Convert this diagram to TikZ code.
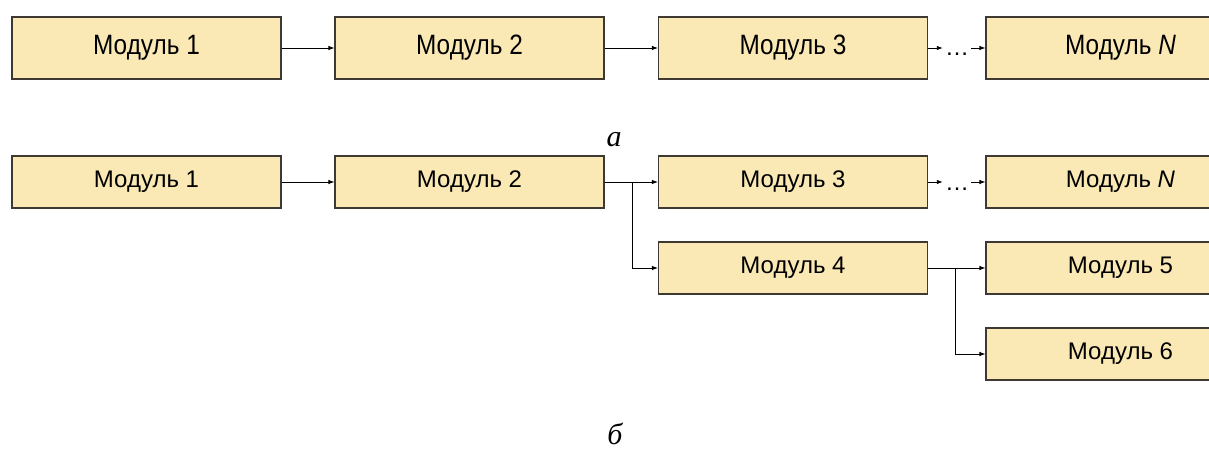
\documentclass[tikz,border=0pt]{standalone}
\usepackage{fontspec}
\setmainfont{Liberation Sans}
\newfontfamily\narrowfont[FakeStretch=0.87]{Liberation Sans}
\newfontfamily\capfont{Liberation Serif}
\usepackage{xcolor}
\usetikzlibrary{arrows.meta}
\definecolor{boxfill}{HTML}{FAE9B5}
\definecolor{boxline}{HTML}{3E3A33}
\definecolor{text}{HTML}{000000}
\tikzset{
  modul/.style={draw=boxline, fill=boxfill, line width=1.1pt, minimum width=269pt,
    minimum height=62pt, inner sep=0pt, text=text, font=\narrowfont\fontsize{28}{32}\selectfont},
  modulb/.style={modul, minimum height=52pt, font=\fontsize{24}{28}\selectfont},
  conn/.style={draw=text, line width=0.9pt, -{Latex[length=6pt,width=4.5pt]}},
  dots/.style={inner xsep=2pt, inner ysep=0pt, anchor=base, font=\fontsize{24}{28}\selectfont},
  lab/.style={text=text, anchor=base, inner sep=0pt, font=\capfont\itshape\fontsize{30}{34}\selectfont},
}
\begin{document}
\begin{tikzpicture}[x=1pt,y=-1pt]
  \clip (0,0) rectangle (1209,449);

  % a: chain of modules
  \node[modul] (m1a) at (146.5,48) {Модуль 1};
  \node[modul] (m2a) at (469.5,48) {Модуль 2};
  \node[modul] (m3a) at (793,48) {Модуль 3};
  \node[modul] (mNa) at (1120.5,48) {Модуль \textit{N}};
  \node[dots] (dA) at (957,56) {…};

  \draw[conn] (m1a) -- (m2a);
  \draw[conn] (m2a) -- (m3a);
  \draw[conn] (m3a.east) -- (m3a.east -| dA.west);
  \draw[conn] (m3a.east -| dA.east) -- (mNa.west);

  \node[lab] (capA) at (614,147) {а};

  % b: branching modules
  \node[modulb] (m1b) at (146.5,182) {Модуль 1};
  \node[modulb] (m2b) at (469.5,182) {Модуль 2};
  \node[modulb] (m3b) at (793,182) {Модуль 3};
  \node[modulb] (mNb) at (1120.5,182) {Модуль \textit{N}};
  \node[modulb] (m4b) at (793,268) {Модуль 4};
  \node[modulb] (m5b) at (1120.5,268) {Модуль 5};
  \node[modulb] (m6b) at (1120.5,354) {Модуль 6};
  \node[dots] (dB) at (957,190) {…};

  \draw[conn] (m1b) -- (m2b);
  \draw[conn] (m2b) -- (m3b);
  \draw[conn] (m2b.east) -- ++(28,0) |- (m4b.west);
  \draw[conn] (m3b.east) -- (m3b.east -| dB.west);
  \draw[conn] (m3b.east -| dB.east) -- (mNb.west);
  \draw[conn] (m4b) -- (m5b);
  \draw[conn] (m4b.east) -- ++(27,0) |- (m6b.west);

  \node[lab] (capB) at (615,444) {б};
\end{tikzpicture}
\end{document}
